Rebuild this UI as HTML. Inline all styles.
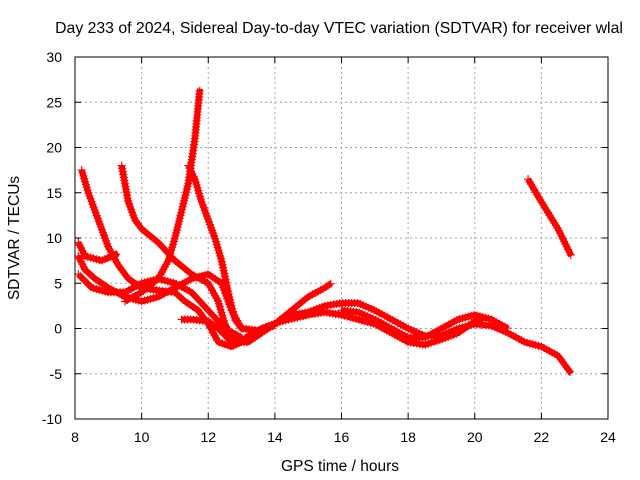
<!DOCTYPE html>
<html><head><meta charset="utf-8"><style>
body{margin:0;background:#fff}
svg{display:block;font-family:"Liberation Sans",sans-serif;font-size:14px}
</style></head><body>
<svg id="chart" width="640" height="480">
<text x="339" y="33" text-anchor="middle" font-size="15.8">Day 233 of 2024, Sidereal Day-to-day VTEC variation (SDTVAR) for receiver wlal</text>
<text x="340" y="471" text-anchor="middle" font-size="15.5">GPS time / hours</text>
<text transform="translate(19,238) rotate(-90)" text-anchor="middle" font-size="15.5">SDTVAR / TECUs</text>
<g id="grid"></g><g id="ticks"></g><g id="marks"></g>
<rect x="75" y="57" width="533" height="362" fill="none" stroke="#000"/>
</svg>
<script>
const xTicks=[8,10,12,14,16,18,20,22,24];
const yTicks=[-10,-5,0,5,10,15,20,25,30];
const trackA=[[8.2,17.5],[8.4,15],[8.7,12],[9,9],[9.3,7],[9.6,5.5],[10,4.5],[10.5,4.2],[11,4],[11.3,3],[11.7,2],[12,0.5],[12.3,-1.5],[12.7,-2],[13,-1.5],[13.3,-0.5],[13.7,0],[14,0.3]];
const trackB=[[9.4,18],[9.6,14],[9.8,12],[10,11],[10.5,9.5],[11,7.5],[11.5,6],[12,5],[12.3,3],[12.5,0.5],[12.8,-1.5],[13.2,-1.5],[13.6,-0.5],[14,0.5],[14.5,1.5],[15,1.8],[15.5,2.5],[16,2.8],[16.5,2.8],[17,2],[17.5,1],[18,0],[18.5,-0.8],[19,-0.8],[19.5,0],[20,0.5],[20.5,0.3],[21,-0.5],[21.5,-1.5],[22,-2],[22.5,-3],[22.9,-5]];
const trackC=[[8.1,8],[8.3,6.5],[8.6,5.5],[9,4.5],[9.5,3.5],[10,3],[10.5,3.5],[11,4.5],[11.5,5.5],[12,6],[12.4,5],[12.7,2],[13,0]];
const trackD=[[8.1,9.5],[8.3,8],[8.8,7.5],[9.3,8.3]];
const trackE=[[9.5,3],[10,4],[10.5,5.5],[10.8,7.5],[11,10],[11.2,13],[11.4,16],[11.6,21],[11.75,26.5]];
const trackF=[[11.4,18],[11.6,16.5],[11.8,14],[12,12],[12.2,10],[12.4,7.5],[12.6,4],[12.8,1],[13,0],[13.5,-0.2],[14,0.5],[14.5,2],[15,3.5],[15.5,4.5],[15.7,5]];
const trackG=[[8.1,6],[8.5,4.5],[9,4],[9.5,4],[10,5],[10.5,5.5],[11,5],[11.5,4],[12,2],[12.5,0],[13,-1]];
const trackH=[[11.2,1],[11.5,1],[12,0.8],[12.3,0],[12.7,-1.5],[13.2,-1],[13.6,0],[14.2,0.8],[15,1.5],[15.5,1.8],[16,1.5],[16.5,1],[17,0.5],[17.5,-0.5],[18,-1.5],[18.5,-1.8],[19,-1.2],[19.5,-0.5],[20,0.8],[20.3,1.2]];
const trackI=[[16,2],[16.5,1.8],[17,1],[17.5,0],[18,-1],[18.5,-1],[19,0],[19.5,1],[20,1.5],[20.5,1],[21,0]];
const trackJ=[[21.6,16.5],[22,14],[22.5,11],[22.9,8]];
const tracks=[trackA,trackB,trackC,trackD,trackE,trackF,trackG,trackH,trackI,trackJ];
const X=v=>75+(v-8)*533/16, Y=v=>419-(v+10)*362/40;
const NS="http://www.w3.org/2000/svg";
const grid=document.getElementById('grid'),ticks=document.getElementById('ticks'),marks=document.getElementById('marks');
function mk(tag,attrs,parent){const e=document.createElementNS(NS,tag);for(const k in attrs)e.setAttribute(k,attrs[k]);parent.appendChild(e);return e;}
xTicks.forEach(t=>{const x=X(t);
 if(t>8&&t<24){const g=mk('line',{x1:x,x2:x,y1:57,y2:419,stroke:'#a0a0a0','stroke-dasharray':'2,3'},grid);}
 mk('line',{x1:x,x2:x,y1:419,y2:413,stroke:'#000'},ticks);mk('line',{x1:x,x2:x,y1:57,y2:63,stroke:'#000'},ticks);
 const l=mk('text',{x:x,y:442,'text-anchor':'middle'},ticks);l.textContent=t;
 });
yTicks.forEach(t=>{const y=Y(t);
 if(t>-10&&t<30){const g=mk('line',{x1:75,x2:608,y1:y,y2:y,stroke:'#a0a0a0','stroke-dasharray':'2,3'},grid);}
 mk('line',{x1:75,x2:81,y1:y,y2:y,stroke:'#000'},ticks);mk('line',{x1:602,x2:608,y1:y,y2:y,stroke:'#000'},ticks);
 const l=mk('text',{x:62,y:y+5,'text-anchor':'end'},ticks);l.textContent=t;
 });
tracks.forEach((tr,i)=>{
 const pts=tr.map(p=>X(p[0])+','+Y(p[1])).join(' ');
 const pl=mk('polyline',{points:pts,fill:'none',stroke:'#f00','stroke-width':6,'stroke-linejoin':'round'},marks);
 
 
 const L=pl.getTotalLength();let d='';
 for(let s=0;s<=L;s+=3){const p=pl.getPointAtLength(s);d+=`M${p.x-4},${p.y}h8M${p.x},${p.y-4}v8`;}
 const pm=mk('path',{d:d,stroke:'#f00','stroke-width':1.2,fill:'none'},marks);
 
 
});
</script>
</body></html>
